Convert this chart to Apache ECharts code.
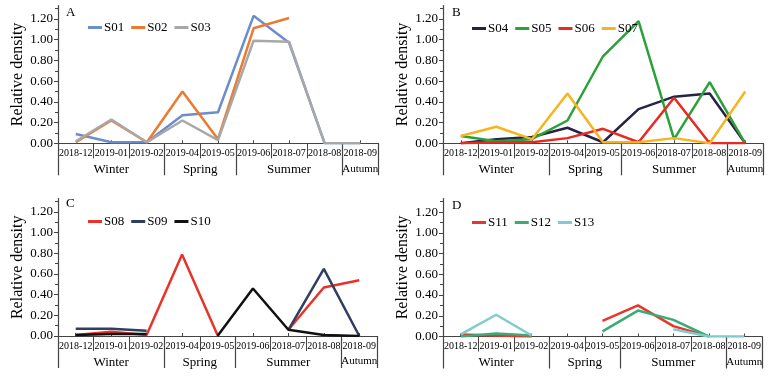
<!DOCTYPE html>
<html><head><meta charset="utf-8">
<script src="https://cdn.jsdelivr.net/npm/echarts@6/dist/echarts.min.js"></script>
<style>html,body{margin:0;padding:0;background:#fff}#c{width:774px;height:378px}</style>
</head><body><div id="c"></div><script>
const categories = ['2018-12','2019-01','2019-02','2019-04','2019-05','2019-06','2018-07','2018-08','2018-09'];
const seasons = ['Winter','Spring','Summer','Autumn'];
const seasonCenters = [1.5, 4, 6.5, 8.5];
const seasonBounds = [0, 3, 5, 8, 9];
const catCenters = [0.5,1.5,2.5,3.5,4.5,5.5,6.5,7.5,8.5];
const yTicks = [0, 0.2, 0.4, 0.6, 0.8, 1.0, 1.2];
const panelLetters = ['A','B','C','D'];

// Panel A
const namesA = ['S01','S02','S03'];
const s01 = [0.09, 0.01, 0.01, 0.27, 0.30, 1.23, 0.97, 0.00, 0.00];
const s02 = [0.01, 0.22, 0.01, 0.50, 0.04, 1.11, 1.21, null, null];
const s03 = [0.02, 0.23, 0.01, 0.22, 0.03, 0.99, 0.98, 0.00, 0.00];
// Panel B
const namesB = ['S04','S05','S06','S07'];
const s04 = [0.00, 0.04, 0.06, 0.15, 0.01, 0.33, 0.45, 0.48, 0.00];
const s05 = [0.07, 0.02, 0.04, 0.22, 0.84, 1.18, 0.04, 0.59, 0.00];
const s06 = [0.00, 0.01, 0.01, 0.05, 0.14, 0.01, 0.44, 0.00, 0.00];
const s07 = [0.07, 0.16, 0.04, 0.48, 0.01, 0.01, 0.05, 0.00, 0.50];
// Panel C
const namesC = ['S08','S09','S10'];
const s08 = [0.01, 0.04, 0.01, 0.79, 0.01, null, 0.06, 0.47, 0.54];
const s09 = [0.07, 0.07, 0.05, null, null, null, 0.06, 0.65, 0.00];
const s10 = [0.01, 0.02, 0.02, null, 0.00, 0.46, 0.06, 0.01, 0.00];
// Panel D
const namesD = ['S11','S12','S13'];
const s11 = [0.02, 0.01, 0.00, null, 0.15, 0.30, 0.10, 0.00, null];
const s12 = [0.00, 0.03, 0.01, null, 0.05, 0.25, 0.16, 0.00, null];
const s13 = [0.02, 0.21, 0.01, null, null, null, 0.07, 0.00, 0.00];

const colorsA = ['#6B8ECB','#EB7B30','#A8A8A8'];
const colorsB = ['#262347','#2BA13A','#E82A22','#F6B520'];
const colorsC = ['#E8332B','#2F3F61','#111111'];
const colorsD = ['#E8362A','#3BAA77','#7FCBCF'];

const panels = [
  {names: namesA, data: [s01,s02,s03], colors: colorsA, grid:{left:58, right:396, top:5.5, bottom:234.7}, legend:{left:83, top:16}, letter:{left:66, top:6}},
  {names: namesB, data: [s04,s05,s06,s07], colors: colorsB, grid:{left:443, right:11, top:5.5, bottom:234.7}, legend:{left:467, top:17}, letter:{left:452, top:6}},
  {names: namesC, data: [s08,s09,s10], colors: colorsC, grid:{left:58, right:397, top:198.6, bottom:42}, legend:{left:83, top:210}, letter:{left:66, top:197}},
  {names: namesD, data: [s11,s12,s13], colors: colorsD, grid:{left:443, right:12, top:198.6, bottom:41.5}, legend:{left:467, top:211}, letter:{left:452, top:199}}
];

const FONT = '"Liberation Serif", "Times New Roman", serif';
const AX = '#444';
const grids = [], xAxes = [], yAxes = [], series = [], legends = [], titles = [];
panels.forEach((p, g) => {
  grids.push(Object.assign({containLabel:false}, p.grid));
  xAxes.push({
    type:'category', gridIndex:g, data:categories, position:'bottom', boundaryGap:true,
    axisLine:{show:true, lineStyle:{color:AX, width:1.2}},
    axisTick:{show:true, interval:0, length:15, lineStyle:{color:AX, width:1}},
    axisLabel:{interval:0, fontSize:10, margin:5, color:'#000', fontFamily:FONT},
    splitLine:{show:false}
  });
  xAxes.push({
    type:'value', gridIndex:g, min:0, max:9, position:'bottom',
    axisLine:{show:false},
    axisTick:{show:true, customValues:seasonBounds, length:32, lineStyle:{color:AX, width:1.2}},
    axisLabel:{show:true, customValues:seasonCenters, margin:20, fontSize:13, color:'#000', fontFamily:FONT,
      formatter: v => { const i = seasonCenters.indexOf(v); return i === 3 ? '{a|' + seasons[i] + '}' : (i >= 0 ? seasons[i] : ''); },
      rich:{a:{fontSize:11, fontFamily:FONT, color:'#000'}}},
    splitLine:{show:false}
  });
  xAxes.push({
    type:'value', gridIndex:g, min:0, max:9, position:'bottom',
    axisLine:{show:false},
    axisTick:{show:true, inside:true, customValues:catCenters, length:3, lineStyle:{color:AX, width:1}},
    axisLabel:{show:false},
    splitLine:{show:false}
  });
  yAxes.push({
    type:'value', gridIndex:g, min:0, max:1.33, interval:0.2,
    name:'Relative density', nameLocation:'middle', nameGap:32, nameRotate:90,
    nameTextStyle:{fontSize:16, color:'#000', fontFamily:FONT},
    axisLine:{show:true, lineStyle:{color:AX, width:1.2}},
    axisTick:{show:true, customValues:yTicks, length:4, lineStyle:{color:AX}},
    minorTick:{show:true, splitNumber:2, length:3, lineStyle:{color:AX}},
    axisLabel:{customValues:yTicks, formatter: v => v.toFixed(2), fontSize:13, margin:5, color:'#000', fontFamily:FONT},
    splitLine:{show:false}
  });
  p.names.forEach((n, k) => {
    series.push({
      name:n, type:'line', xAxisIndex:3*g, yAxisIndex:g, data:p.data[k],
      showSymbol:false, symbol:'none', connectNulls:false,
      lineStyle:{width:2.5, color:p.colors[k]}, itemStyle:{color:p.colors[k]}
    });
  });
  legends.push({
    data:p.names, left:p.legend.left, top:p.legend.top, orient:'horizontal',
    icon:'rect', itemWidth:14, itemHeight:3, itemGap:7,
    textStyle:{fontSize:13, color:'#000', fontFamily:FONT, padding:[0,0,0,-3]}
  });
  titles.push({text:panelLetters[g], left:p.letter.left, top:p.letter.top, padding:0,
    textStyle:{fontSize:13, fontWeight:'normal', color:'#000', fontFamily:FONT}});
});

const chart = echarts.init(document.getElementById('c'), null, {renderer:'canvas'});
chart.setOption({
  animation:false, backgroundColor:'#fff',
  title:titles, legend:legends, grid:grids, xAxis:xAxes, yAxis:yAxes, series:series
});
</script></body></html>
